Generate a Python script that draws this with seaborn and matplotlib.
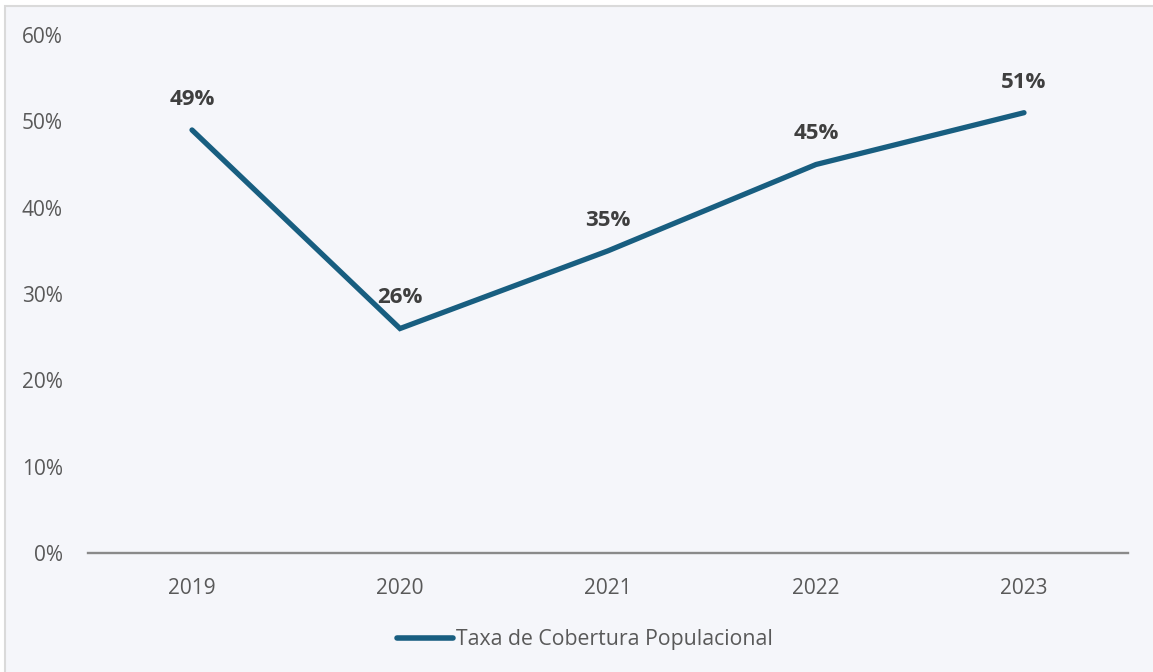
import matplotlib
matplotlib.use("Agg")
import matplotlib.pyplot as plt
import seaborn as sns
import pandas as pd
from matplotlib.patches import Rectangle

years = ["2019", "2020", "2021", "2022", "2023"]
values = [49, 26, 35, 45, 51]
series_name = "Taxa de Cobertura Populacional"
y_ticks = [0, 10, 20, 30, 40, 50, 60]

sns.set_style("white")
plt.rcParams["font.family"] = ["Open Sans", "DejaVu Sans"]

W, H = 1153, 672
fig = plt.figure(figsize=(W / 100, H / 100), dpi=100, facecolor="white")
bg = "#F5F6FA"
fig.patches.append(Rectangle((5 / W, -0.01), 1.02, 1 - 6 / H + 0.01, transform=fig.transFigure,
                             facecolor=bg, edgecolor="#DADADA", linewidth=1.5, zorder=-10))

ax = fig.add_axes([88 / W, (H - 553) / H, (1128 - 88) / W, (553 - 35) / H])
ax.set_facecolor("none")
ax.patch.set_alpha(0)

df = pd.DataFrame({"Ano": years, "Valor": values, "Serie": series_name})
color = "#185E80"
sns.lineplot(data=df, x="Ano", y="Valor", hue="Serie", palette=[color], ax=ax,
             linewidth=3.8, sort=False, legend=True)
for line in ax.lines:
    line.set_solid_capstyle("round")
    line.set_solid_joinstyle("miter")

ax.set_xlim(-0.5, len(years) - 0.5)
ax.set_ylim(0, 60)
ax.set_yticks(y_ticks)
ax.set_yticklabels([f"{t}%" for t in y_ticks])
ax.set_xlabel("")
ax.set_ylabel("")
for s in ["top", "right", "left"]:
    ax.spines[s].set_visible(False)
ax.spines["bottom"].set_color("#8A8A8A")
ax.spines["bottom"].set_linewidth(1.7)
ax.tick_params(axis="y", length=0, pad=18, labelsize=15, labelcolor="#595959")
ax.tick_params(axis="x", length=0, pad=18, labelsize=15, labelcolor="#595959")

for i, v in enumerate(values):
    ax.annotate(f"{v}%", (i, v), xytext=(0, 22), textcoords="offset points",
                ha="center", va="center", fontsize=16, fontweight="bold", color="#3F3F3F")

leg = ax.legend(loc="center", bbox_to_anchor=(585 / W, (H - 640) / H), bbox_transform=fig.transFigure,
                frameon=False, fontsize=15.3, handlelength=2.6, handletextpad=0.15)
for t in leg.get_texts():
    t.set_color("#595959")
for h in leg.legend_handles:
    h.set_linewidth(4)
    h.set_solid_capstyle("round")

fig.savefig("out.png", dpi=100, facecolor="white")
